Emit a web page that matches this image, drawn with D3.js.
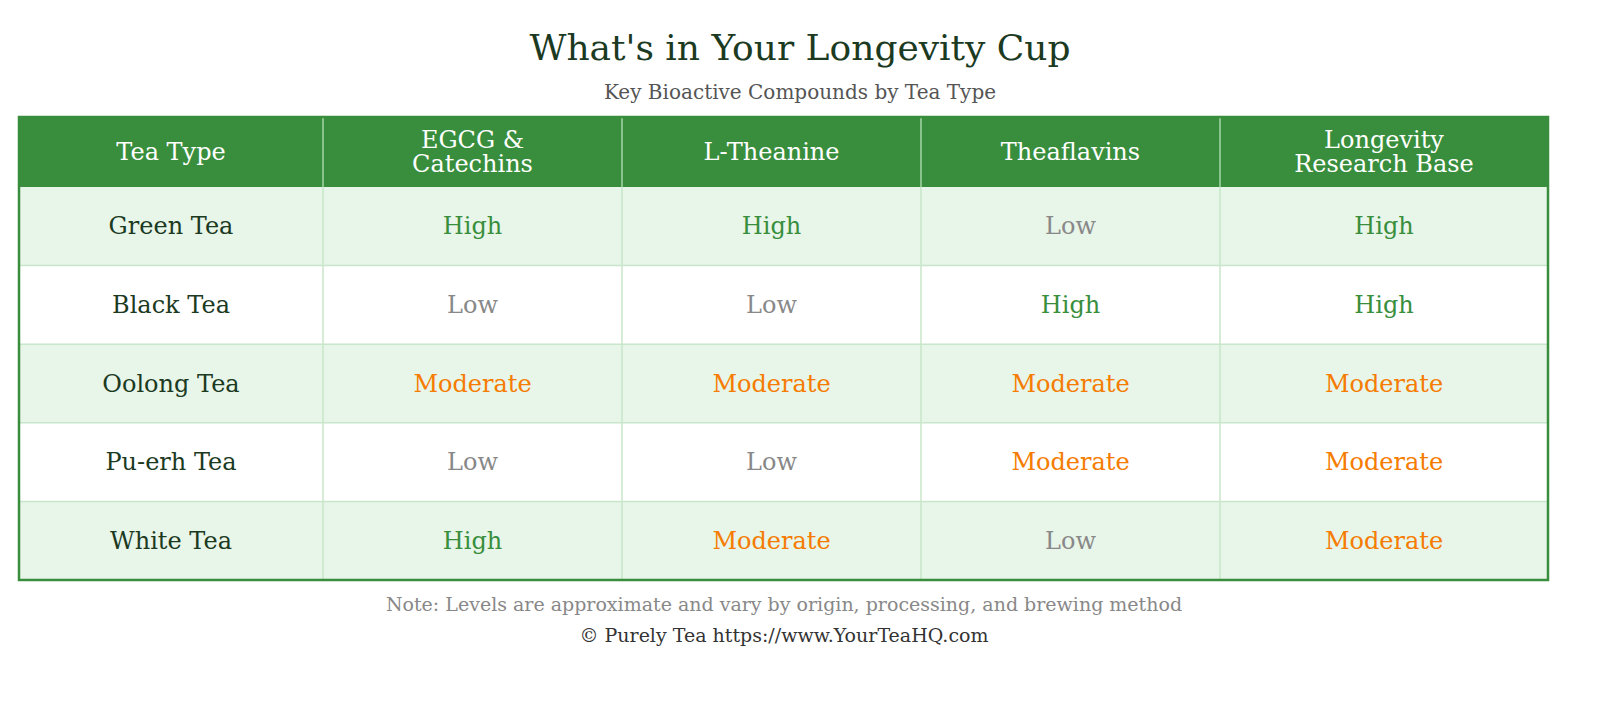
<!DOCTYPE html><html><head><meta charset="utf-8">
<script src="https://cdn.jsdelivr.net/npm/d3@7"></script>
<style>body{margin:0;background:#fff}</style></head><body><svg id="c" width="1600" height="720"></svg>
<script>
const columns = ["Tea Type","EGCG &\nCatechins","L-Theanine","Theaflavins","Longevity\nResearch Base"];
const teas = ["Green Tea","Black Tea","Oolong Tea","Pu-erh Tea","White Tea"];
const egcg = ["High","Low","Moderate","Low","High"];
const theanine = ["High","Low","Moderate","Low","Moderate"];
const theaflavins = ["Low","High","Moderate","Moderate","Low"];
const research = ["High","High","Moderate","Moderate","Moderate"];
(function(){
const colEdges = [19,323,622,921,1220,1548];
const levelColor = {High:"#388e3c",Low:"#888888",Moderate:"#f57c00"};
const F = "Georgia,'DejaVu Serif',serif";
const svg = d3.select("#c");
svg.append("text").attr("x",800).attr("y",60).attr("text-anchor","middle").attr("font-family",F).attr("font-size",36).attr("fill","#1b3a1f").text("What's in Your Longevity Cup");
svg.append("text").attr("x",800).attr("y",99).attr("text-anchor","middle").attr("font-family",F).attr("font-size",20).attr("fill","#555").text("Key Bioactive Compounds by Tea Type");
const tTop=117, headH=70, rowH=78.6;
const y = d3.scaleBand().domain(teas).range([tTop+headH, tTop+headH+rowH*teas.length]);
svg.append("rect").attr("x",19).attr("y",tTop).attr("width",1529).attr("height",headH).attr("fill","#388e3c");
teas.forEach((t,i)=>svg.append("rect").attr("x",19).attr("y",y(t)).attr("width",1529).attr("height",rowH).attr("fill",i%2?"#ffffff":"#e8f5e9"));
teas.forEach((t,i)=>{ if(i>0) svg.append("line").attr("x1",19).attr("x2",1548).attr("y1",y(t)).attr("y2",y(t)).attr("stroke","#c8e6c9").attr("stroke-width",1.5);});
colEdges.slice(1,-1).forEach(x=>{
  svg.append("line").attr("x1",x).attr("x2",x).attr("y1",tTop).attr("y2",tTop+headH).attr("stroke","#a5d6a7").attr("stroke-width",1.5);
  svg.append("line").attr("x1",x).attr("x2",x).attr("y1",tTop+headH).attr("y2",tTop+headH+rowH*teas.length).attr("stroke","#c8e6c9").attr("stroke-width",1.5);
});
svg.append("rect").attr("x",19).attr("y",tTop).attr("width",1529).attr("height",headH+rowH*teas.length).attr("fill","none").attr("stroke","#388e3c").attr("stroke-width",2.5);
columns.forEach((c,j)=>{
  const cx=(colEdges[j]+colEdges[j+1])/2, lines=c.split("\n");
  const t=svg.append("text").attr("text-anchor","middle").attr("font-family",F).attr("font-size",24).attr("fill","#fff");
  lines.forEach((l,k)=>t.append("tspan").attr("x",cx).attr("y",tTop+headH/2+8+(k-(lines.length-1)/2)*24).text(l));
});
const cols=[egcg,theanine,theaflavins,research];
teas.forEach((t,i)=>{
  const cy=y(t)+rowH/2+8;
  svg.append("text").attr("x",(colEdges[0]+colEdges[1])/2).attr("y",cy).attr("text-anchor","middle").attr("font-family",F).attr("font-size",24).attr("fill","#1b3a1f").text(t);
  cols.forEach((arr,j)=>svg.append("text").attr("x",(colEdges[j+1]+colEdges[j+2])/2).attr("y",cy).attr("text-anchor","middle").attr("font-family",F).attr("font-size",24).attr("fill",levelColor[arr[i]]).text(arr[i]));
});
svg.append("text").attr("x",784).attr("y",611).attr("text-anchor","middle").attr("font-family",F).attr("font-size",19).attr("fill","#888").text("Note: Levels are approximate and vary by origin, processing, and brewing method");
svg.append("text").attr("x",784).attr("y",642).attr("text-anchor","middle").attr("font-family",F).attr("font-size",19).attr("fill","#333").text("© Purely Tea https://www.YourTeaHQ.com");
})();
</script></body></html>
